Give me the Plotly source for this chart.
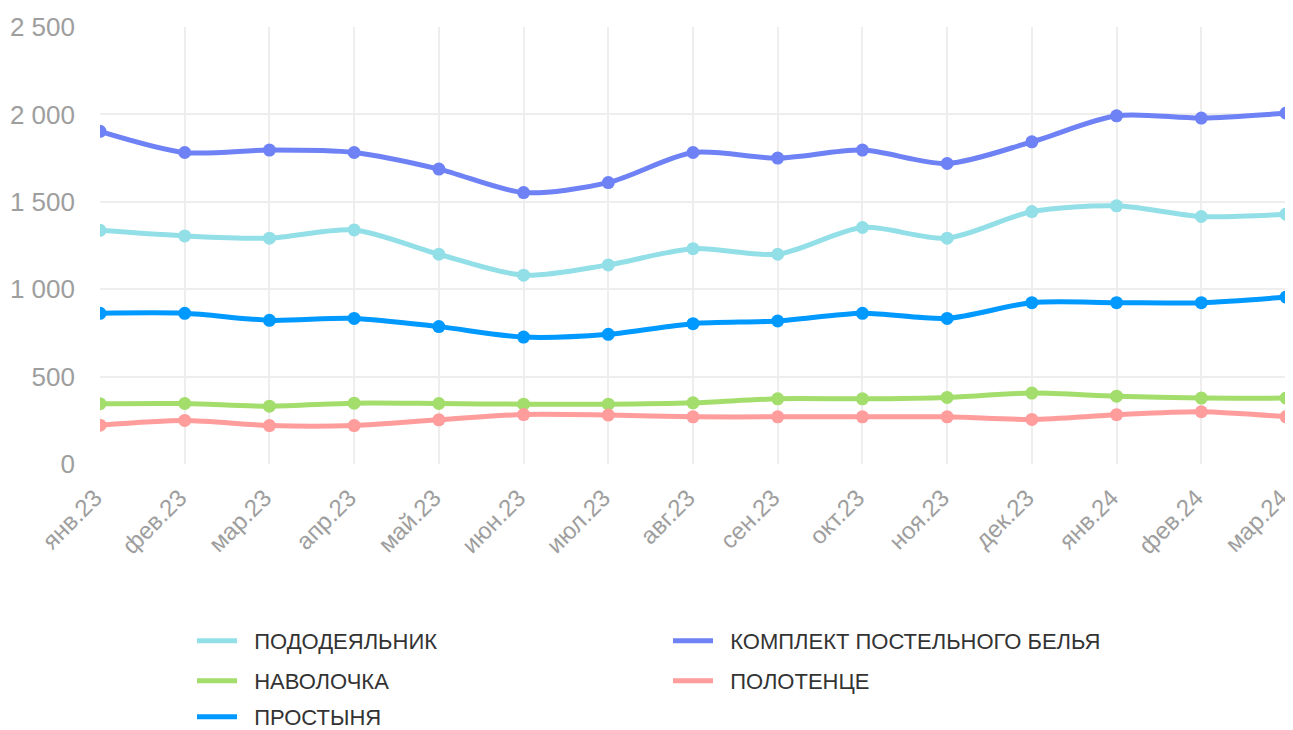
import plotly.graph_objects as go

months = ["янв.23", "фев.23", "мар.23", "апр.23", "май.23", "июн.23", "июл.23",
          "авг.23", "сен.23", "окт.23", "ноя.23", "дек.23", "янв.24", "фев.24", "мар.24"]

pododeyalnik = [1337, 1305, 1292, 1339, 1200, 1080, 1139, 1232, 1200, 1353, 1292, 1444, 1477, 1416, 1429]
komplekt = [1903, 1782, 1796, 1782, 1687, 1553, 1610, 1782, 1750, 1796, 1719, 1843, 1992, 1979, 2007]
navolochka = [345, 346, 331, 348, 346, 342, 342, 350, 373, 373, 381, 406, 388, 377, 377]
polotence = [222, 249, 220, 220, 253, 283, 280, 270, 270, 270, 270, 255, 282, 299, 270]
prostynya = [862, 862, 822, 833, 786, 726, 742, 803, 818, 862, 833, 923, 923, 923, 955]

series = [
    ("ПОДОДЕЯЛЬНИК", pododeyalnik, "#93DFE7", "legend"),
    ("КОМПЛЕКТ ПОСТЕЛЬНОГО БЕЛЬЯ", komplekt, "#6E82F5", "legend"),
    ("НАВОЛОЧКА", navolochka, "#A3DD6B", "legend2"),
    ("ПОЛОТЕНЦЕ", polotence, "#FF9C9C", "legend2"),
    ("ПРОСТЫНЯ", prostynya, "#0099FF", "legend3"),
]

fig = go.Figure()
for name, vals, color, lg in series:
    fig.add_trace(go.Scatter(
        x=months, y=vals, name=name, mode="lines+markers",
        line=dict(color=color, width=5, shape="spline", smoothing=0.8),
        marker=dict(color=color, size=13),
        showlegend=False,
    ))
# legend entries (line-only symbols)
for name, vals, color, lg in series:
    fig.add_trace(go.Scatter(
        x=[months[0]], y=[None], name="\u00a0\u00a0" + name, mode="lines",
        line=dict(color=color, width=5),
        legend=lg, showlegend=True, hoverinfo="skip",
    ))

# page body has an 8px margin, so the figure is sized/offset to compensate
W, H = 1285, 722
font_family = "Liberation Sans, Arial, Helvetica, sans-serif"
leg_common = dict(orientation="h", xref="container", yref="container",
                  x=184 / W, xanchor="left", yanchor="middle",
                  entrywidth=421, entrywidthmode="pixels", itemwidth=40,
                  font=dict(family=font_family, size=22, color="#333333"),
                  bgcolor="rgba(0,0,0,0)")

fig.update_layout(
    width=W, height=H,
    margin=dict(l=92, r=7, t=19, b=266),
    plot_bgcolor="white", paper_bgcolor="white",
    separators=". ",
    font=dict(family=font_family),
    showlegend=True,
    legend=dict(**leg_common, y=1 - 633 / H),
    legend2=dict(**leg_common, y=1 - 673 / H),
    legend3=dict(**leg_common, y=1 - 709 / H),
    xaxis=dict(
        type="category", range=[0, len(months) - 1], automargin=False,
        showgrid=True, gridcolor="#EEEEEE", gridwidth=1.5,
        showline=False, zeroline=False,
        tickangle=-45, tickfont=dict(size=24, color="#9E9E9E"),
        ticks="", ticklabelstandoff=14, ticklabelshift=-5,
    ),
    yaxis=dict(
        range=[0, 2500], dtick=500, tickformat=",d", automargin=False,
        showgrid=True, gridcolor="#EEEEEE", gridwidth=1.5,
        zeroline=False, showline=False,
        tickfont=dict(size=26, color="#9E9E9E"),
        ticks="", ticklabelstandoff=24,
    ),
)

fig.write_html("out.html")
